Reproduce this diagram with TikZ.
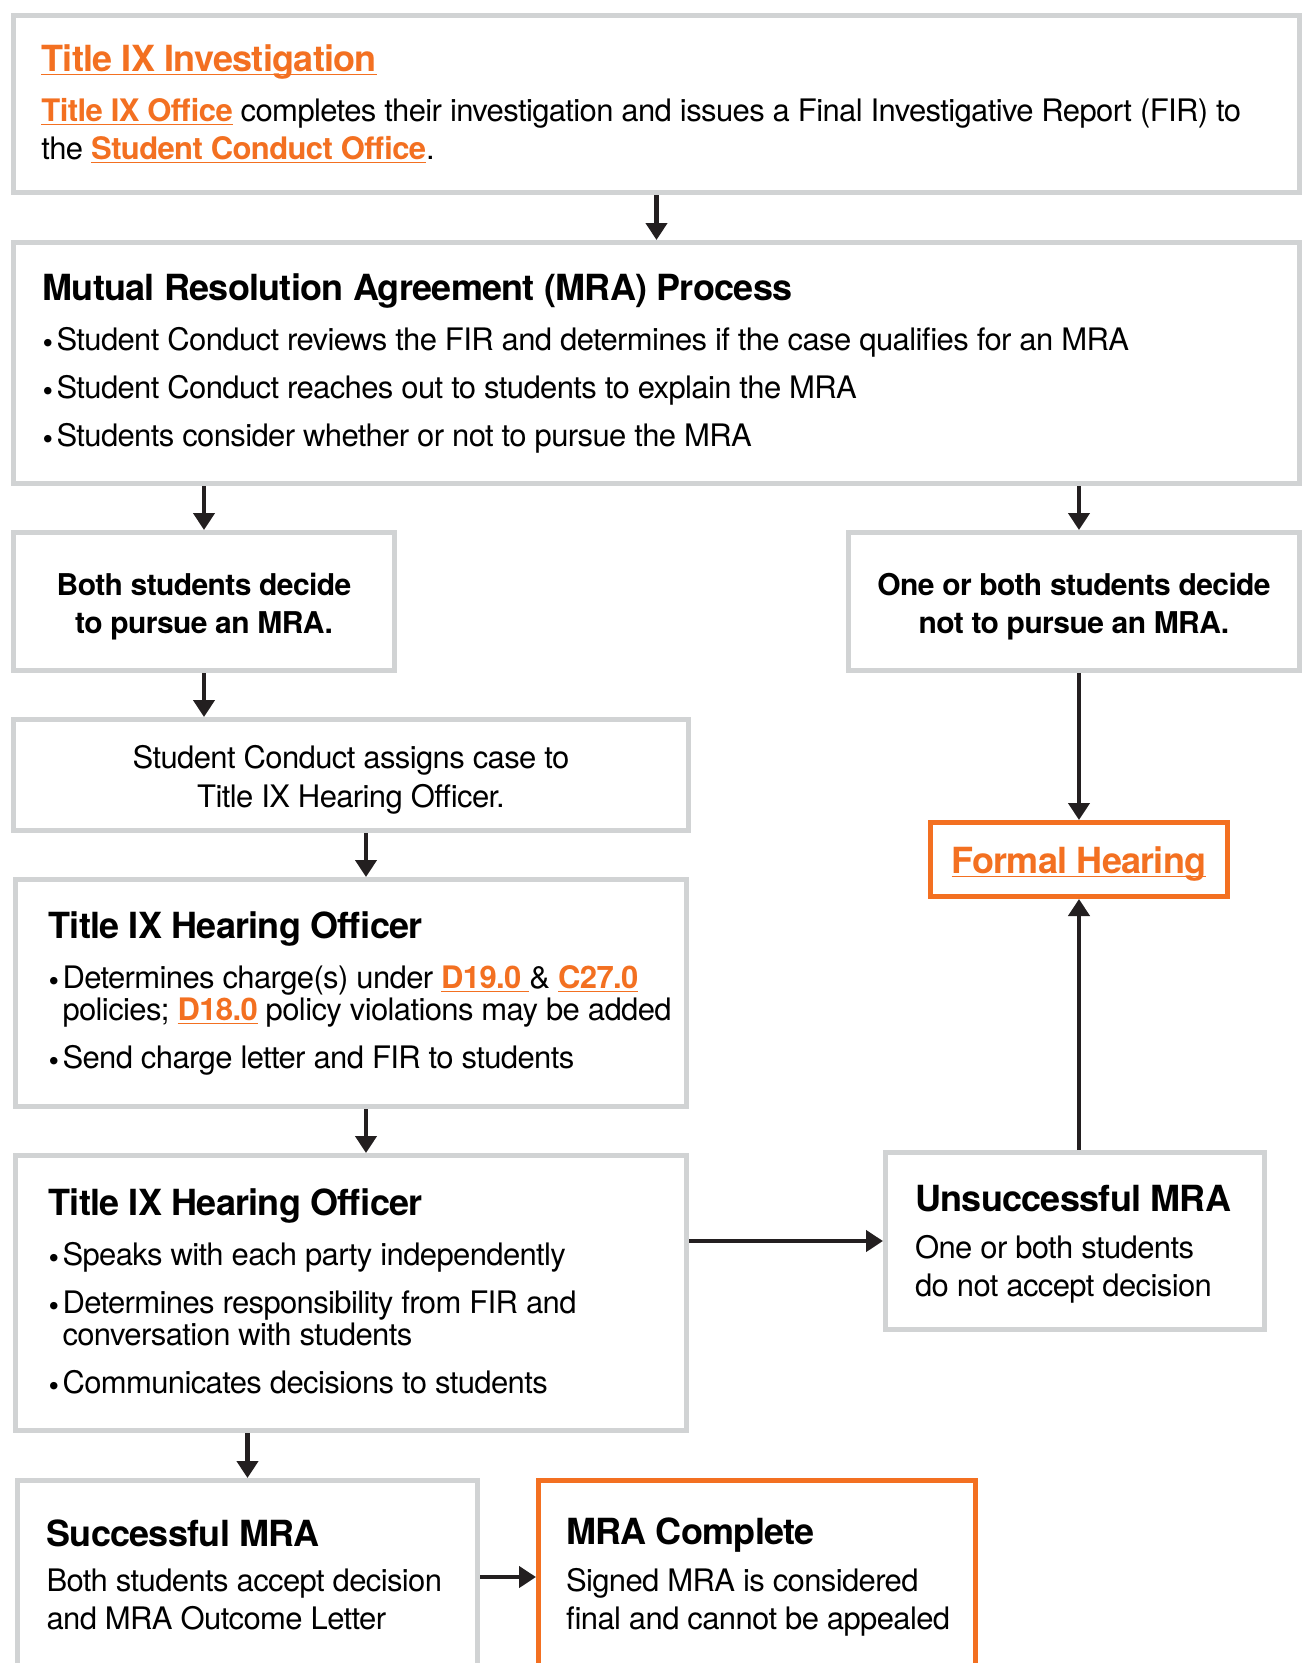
\documentclass[tikz,border=0pt]{standalone}
\usepackage{fontspec}
\setmainfont{TeX Gyre Heros}[LetterSpace=-2]
\usetikzlibrary{arrows.meta}
\definecolor{orng}{HTML}{F37021}
\definecolor{frame}{HTML}{D1D3D4}
\definecolor{ink}{HTML}{231F20}
\newcommand\lnk[1]{{\color{orng}\bfseries\setbox0=\hbox{#1}\rlap{\rule[-4pt]{\wd0}{1.5pt}}\box0}}
\newcommand\hd[1]{\mbox{\fontsize{36}{36}\selectfont\bfseries #1}}
\newcommand\bul{\makebox[14pt][l]{\raisebox{-3pt}{\fontsize{30}{30}\selectfont\textbullet}}}
\begin{document}
\begin{tikzpicture}[x=1pt, y=-1pt,
  box/.style = {draw=frame, line width=5pt, inner ysep=0pt, font=\fontsize{31}{38}\selectfont,
    execute at begin node={\spaceskip=0pt\xspaceskip=0pt\relax}},
  hot/.style = {box, draw=orng},
  arr/.style = {-{Triangle[length=17pt,width=21pt]}, line width=4.5pt, draw=ink}]
\useasboundingbox[fill=white] (0,0) rectangle (1303,1663);
\node[box, minimum width=1286pt, minimum height=177pt, inner xsep=28pt, text width=1230pt, align=left] (1) at (656.5,104)
  {\hd{\lnk{Title IX Investigation}}\\[12pt]\mbox{\lnk{Title IX Office} completes their investigation and issues a Final Investigative Report (FIR) to}\\the \lnk{Student Conduct Office}.};
\node[box, minimum width=1286pt, minimum height=241pt, inner xsep=29pt, text width=1228pt, align=left] (2) at (656.5,363)
  {\hd{Mutual Resolution Agreement (MRA) Process}\\[12pt]\bul Student Conduct reviews the FIR and determines if the case qualifies for an MRA\\[10pt]\bul Student Conduct reaches out to students to explain the MRA\\[10pt]\bul Students consider whether or not to pursue the MRA};
\node[box, minimum width=381pt, minimum height=138pt, align=center, font=\fontsize{30}{38}\selectfont\bfseries] (3) at (204,601.5)
  {\rule{0pt}{33pt}Both students decide\\to pursue an MRA.};
\node[box, minimum width=451pt, minimum height=138pt, align=center, font=\fontsize{30}{38}\selectfont\bfseries] (4) at (1074,601.5)
  {\rule{0pt}{33pt}One or both students decide\\not to pursue an MRA.};
\node[box, minimum width=675pt, minimum height=111pt, align=center, font=\fontsize{31}{39}\selectfont] (5) at (351,775)
  {\rule{0pt}{33pt}Student Conduct assigns case to\\Title IX Hearing Officer.};
\node[box, minimum width=671pt, minimum height=227pt, inner xsep=33pt, text width=605pt, align=left, font=\fontsize{31}{32}\selectfont] (6) at (351,993)
  {\hd{Title IX Hearing Officer}\\[18pt]\bul Determines charge(s) under \lnk{D19.0 }\& \lnk{C27.0}\\\mbox{\hspace*{14pt}policies; \lnk{D18.0} policy violations may be added}\\[16pt]\bul Send charge letter and FIR to students};
\node[box, minimum width=671pt, minimum height=275pt, inner xsep=33pt, text width=605pt, align=left, font=\fontsize{31}{32}\selectfont] (7) at (351,1293)
  {\hd{Title IX Hearing Officer}\\[18pt]\bul Speaks with each party independently\\[16pt]\bul Determines responsibility from FIR and\\\hspace*{14pt}conversation with students\\[16pt]\bul Communicates decisions to students};
\node[box, minimum width=379pt, minimum height=177pt, inner xsep=29.5pt, text width=320pt, align=left] (8) at (1075,1241)
  {\rule{0pt}{33pt}\hd{Unsuccessful MRA}\\[9pt]One or both students\\\mbox{do not accept decision}};
\node[hot, minimum width=297pt, minimum height=74pt] (9) at (1079,859.5)
  {\rule{0pt}{35pt}\hd{\lnk{Formal Hearing}}};
\node[box, minimum width=460pt, minimum height=193pt, inner xsep=29pt, text width=402pt, align=left] (10) at (247.5,1577)
  {\hd{Successful MRA}\\[7pt]\mbox{Both students accept decision}\\and MRA Outcome Letter\rule[-5pt]{0pt}{5pt}};
\node[hot, minimum width=437pt, minimum height=193pt, inner xsep=27.5pt, text width=382pt, align=left] (11) at (757,1577)
  {\hd{MRA Complete}\\[9pt]Signed MRA is considered\\\mbox{final and cannot be appealed}};
\draw[arr] (1) -- (2);
\draw[arr] (2.south -| 3) -- (3);
\draw[arr] (2.south -| 9) -- (4.north -| 9);
\draw[arr] (3) -- (3 |- 5.north);
\draw[arr] ([xshift=15pt]5.south) -- ([xshift=15pt]6.north);
\draw[arr] ([xshift=15pt]6.south) -- ([xshift=15pt]7.north);
\draw[arr] (7.east |- 8) -- (8);
\draw[arr] (4.south -| 9) -- (9);
\draw[arr] (8.north -| 9) -- (9);
\draw[arr] (7.south -| 10) -- (10);
\draw[arr] (10) -- (11);
\end{tikzpicture}
\end{document}
